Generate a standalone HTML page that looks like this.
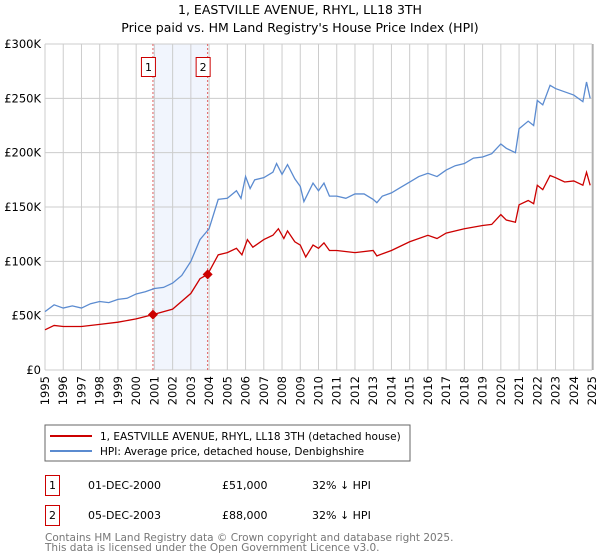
<!DOCTYPE html>
<html><head><meta charset="utf-8">
<style>
body{margin:0;background:#fff;font-family:"DejaVu Sans","Liberation Sans",sans-serif;}
#wrap{position:relative;width:600px;height:560px;overflow:hidden;}
svg text{font-family:"DejaVu Sans","Liberation Sans",sans-serif;}
</style></head>
<body>
<div id="wrap">
<svg id="chart" width="600" height="560">
<text x="300" y="14" text-anchor="middle" font-size="12.5" fill="#000">1, EASTVILLE AVENUE, RHYL, LL18 3TH</text>
<text x="300" y="32" text-anchor="middle" font-size="12.5" fill="#000">Price paid vs. HM Land Registry's House Price Index (HPI)</text>
<g id="grid"></g>
<g id="series"></g>
<rect x="45" y="425" width="365" height="36" fill="none" stroke="#666"/>
<line x1="50" y1="436" x2="92" y2="436" stroke="#cc0000" stroke-width="2"/>
<text x="100" y="440" font-size="10.5">1, EASTVILLE AVENUE, RHYL, LL18 3TH (detached house)</text>
<line x1="50" y1="451" x2="92" y2="451" stroke="#5b8bd0" stroke-width="2"/>
<text x="100" y="455" font-size="10.5">HPI: Average price, detached house, Denbighshire</text>
<g>
<rect x="45.5" y="475.5" width="14" height="20" fill="none" stroke="#cc0000"/>
<text x="52.5" y="489" font-size="11" text-anchor="middle">1</text>
<text x="88" y="489" font-size="11">01-DEC-2000</text>
<text x="222" y="489" font-size="11">£51,000</text>
<text x="312" y="489" font-size="11">32% ↓ HPI</text>
</g>
<g>
<rect x="45.5" y="505.5" width="14" height="20" fill="none" stroke="#cc0000"/>
<text x="52.5" y="519" font-size="11" text-anchor="middle">2</text>
<text x="88" y="519" font-size="11">05-DEC-2003</text>
<text x="222" y="519" font-size="11">£88,000</text>
<text x="312" y="519" font-size="11">32% ↓ HPI</text>
</g>
<text x="45" y="541" font-size="10.5" fill="#777">Contains HM Land Registry data © Crown copyright and database right 2025.</text>
<text x="45" y="551" font-size="10.5" fill="#777">This data is licensed under the Open Government Licence v3.0.</text>
</svg>
</div>
<script>
const years=[1995,1996,1997,1998,1999,2000,2001,2002,2003,2004,2005,2006,2007,2008,2009,2010,2011,2012,2013,2014,2015,2016,2017,2018,2019,2020,2021,2022,2023,2024,2025];
const yTicks=[0,50,100,150,200,250,300];
const yTickLabels=["£0","£50K","£100K","£150K","£200K","£250K","£300K"];
const hpiDates=[1995.0,1995.5,1996.0,1996.5,1997.0,1997.5,1998.0,1998.5,1999.0,1999.5,2000.0,2000.5,2001.0,2001.5,2002.0,2002.5,2003.0,2003.5,2004.0,2004.5,2005.0,2005.5,2005.75,2006.0,2006.25,2006.5,2007.0,2007.5,2007.7,2008.0,2008.3,2008.7,2009.0,2009.2,2009.7,2010.0,2010.3,2010.6,2011.0,2011.5,2012.0,2012.5,2013.0,2013.2,2013.5,2014.0,2014.5,2015.0,2015.5,2016.0,2016.5,2017.0,2017.5,2018.0,2018.5,2019.0,2019.5,2020.0,2020.3,2020.8,2021.0,2021.5,2021.8,2022.0,2022.3,2022.7,2023.0,2023.5,2024.0,2024.5,2024.7,2024.9];
const hpiValues=[53.7,60,57,59,57,61,63,62,65,66,70,72,75,76,80,87,100,120,130,157,158,165,158,178,167,175,177,182,190,180,189,176,169,155,172,165,172,160,160,158,162,162,157,154,160,163,168,173,178,181,178,184,188,190,195,196,199,208,204,200,222,229,225,248,244,262,259,256,253,247,265,250];
const ppDates=[1995.0,1995.5,1996.0,1997.0,1998.0,1999.0,2000.0,2000.92,2002.0,2003.0,2003.5,2003.92,2004.5,2005.0,2005.5,2005.8,2006.1,2006.4,2007.0,2007.5,2007.8,2008.1,2008.3,2008.7,2009.0,2009.3,2009.7,2010.0,2010.3,2010.6,2011.0,2012.0,2013.0,2013.2,2014.0,2015.0,2016.0,2016.5,2017.0,2018.0,2019.0,2019.5,2020.0,2020.3,2020.8,2021.0,2021.5,2021.8,2022.0,2022.3,2022.7,2023.0,2023.5,2024.0,2024.5,2024.7,2024.9];
const ppValues=[37,41,40,40,42,44,47,51,56,70.5,84,88,106,108,112,106,120,113,120,124,130,121,128,118,115,104,115,112,117,110,110,108,110,105,110,118,124,121,126,130,133,134,143,138,136,152,156,153,170,166,179,177,173,174,170,182,170];
const saleDates=[2000.92,2003.92];
const saleValues=[51,88];
const saleLabels=["1","2"];

const X0=45,X1=592,Y0=370,Y1=44;
const xs=y=>X0+(y-1995)/30*(X1-X0);
const ys=v=>Y0-v/300*(Y0-Y1);
const NS="http://www.w3.org/2000/svg";
const grid=document.getElementById('grid'),ser=document.getElementById('series');
function mk(tag,attrs,parent){const e=document.createElementNS(NS,tag);for(const k in attrs)e.setAttribute(k,attrs[k]);parent.appendChild(e);return e;}

const band=mk('rect',{x:xs(saleDates[0]),y:Y1,width:xs(saleDates[1])-xs(saleDates[0]),height:Y0-Y1,fill:'#f1f5fd'},grid);


years.forEach(yr=>{
  const l=mk('line',{x1:xs(yr),x2:xs(yr),y1:Y1,y2:Y0,stroke:'#cccccc'},grid);
  
  
  const t=mk('text',{x:0,y:0,'font-size':11.5,'text-anchor':'end',transform:`translate(${xs(yr)+4},${Y0+6}) rotate(-90)`},grid);
  t.textContent=yr;
  
  
});
yTicks.forEach((v,i)=>{
  const l=mk('line',{x1:X0,x2:X1,y1:ys(v),y2:ys(v),stroke:'#cccccc'},grid);
  
  
  const t=mk('text',{x:X0-4,y:ys(v)+4,'font-size':11.5,'text-anchor':'end'},grid);
  t.textContent=yTickLabels[i];
  
  
});
const rb=mk('line',{x1:X1+1,x2:X1+1,y1:Y1,y2:Y0,stroke:'#999'},grid);



saleDates.forEach((d,i)=>{
  const l=mk('line',{x1:xs(d),x2:xs(d),y1:Y1,y2:Y0,stroke:'#e06060','stroke-dasharray':'2,2'},ser);
  
  
  const r=mk('rect',{x:xs(d)-11.5,y:57.5,width:14,height:19,fill:'#fff',stroke:'#cc0000'},ser);
  
  
  const t=mk('text',{x:xs(d)-4.5,y:71,'font-size':11,'text-anchor':'middle'},ser);
  t.textContent=saleLabels[i];
  
  
});
const hp=mk('polyline',{points:hpiDates.map((d,i)=>xs(d)+','+ys(hpiValues[i])).join(' '),fill:'none',stroke:'#5b8bd0','stroke-width':1.3},ser);


const pp=mk('polyline',{points:ppDates.map((d,i)=>xs(d)+','+ys(ppValues[i])).join(' '),fill:'none',stroke:'#cc0000','stroke-width':1.3},ser);


saleDates.forEach((d,i)=>{
  const x=xs(d),y=ys(saleValues[i]);
  const p=mk('polygon',{points:`${x},${y-5} ${x+5},${y} ${x},${y+5} ${x-5},${y}`,fill:'#cc0000'},ser);
  
  
});
</script>
</body></html>
